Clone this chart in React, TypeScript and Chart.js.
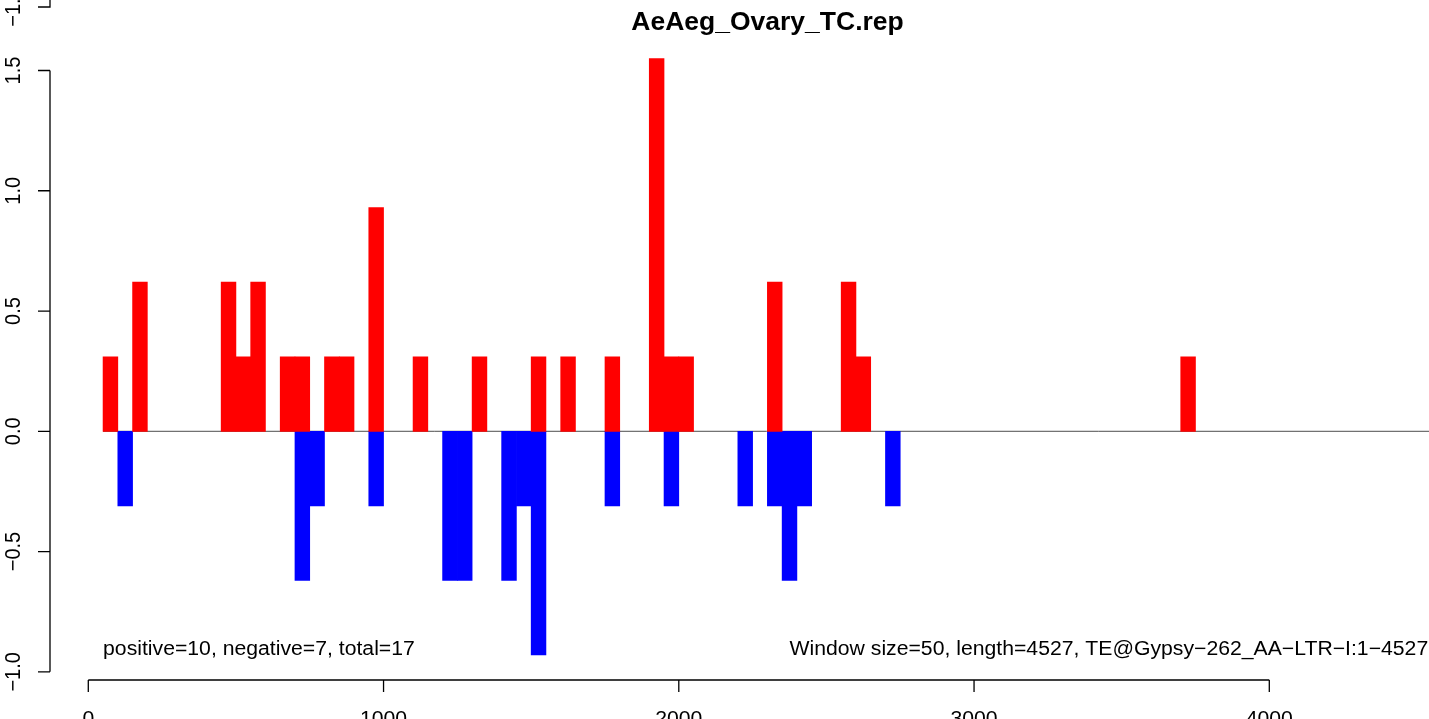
import React, { useEffect, useRef } from "react";
import { Chart, registerables } from "chart.js";

Chart.register(...registerables);

// ---- data ----
const TITLE = "AeAeg_Ovary_TC.rep";
const WINDOW = 50;
const posStarts = [50, 150, 450, 500, 550, 650, 700, 800, 850, 950, 1100, 1300, 1500, 1600, 1750, 1900, 1950, 2000, 2300, 2550, 2600, 3700];
const posValues = [0.31, 0.62, 0.62, 0.31, 0.62, 0.31, 0.31, 0.31, 0.31, 0.93, 0.31, 0.31, 0.31, 0.31, 0.31, 1.55, 0.31, 0.31, 0.62, 0.62, 0.31, 0.31];
const negStarts = [100, 700, 750, 950, 1200, 1250, 1400, 1450, 1500, 1750, 1950, 2200, 2300, 2350, 2400, 2700];
const negValues = [-0.31, -0.62, -0.31, -0.31, -0.62, -0.62, -0.62, -0.31, -0.93, -0.31, -0.31, -0.31, -0.31, -0.62, -0.31, -0.31];
const xTicks = [0, 1000, 2000, 3000, 4000];
const xTickLabels = ["0", "1000", "2000", "3000", "4000"];
const yTicks = [-1, -0.5, 0, 0.5, 1, 1.5];
const yTickLabels = ["\u22121.0", "\u22120.5", "0.0", "0.5", "1.0", "1.5"];
const baselineRange = [50, 4700];
const leftNote = "positive=10, negative=7, total=17";
const rightNote = "Window size=50, length=4527, TE@Gypsy\u2212262_AA\u2212LTR\u2212I:1\u22124527";
const upperPanelLabel = "\u22121.0";

const FONT = '"Liberation Sans", Arial, Helvetica, sans-serif';
const SX = 1.06;

function drawText(
  ctx: CanvasRenderingContext2D,
  s: string,
  x: number,
  y: number,
  size: number,
  align: CanvasTextAlign = "left",
  bold = false,
  rotate = false
) {
  ctx.save();
  ctx.translate(x, y);
  ctx.scale(SX, 1);
  if (rotate) ctx.rotate(-Math.PI / 2);
  ctx.font = `${bold ? "bold " : ""}${size}px ${FONT}`;
  ctx.textAlign = align;
  ctx.textBaseline = "alphabetic";
  ctx.fillStyle = "#000";
  ctx.fillText(s, 0, 0);
  ctx.restore();
}

export default function App() {
  const ref = useRef<HTMLCanvasElement>(null);

  useEffect(() => {
    const canvas = ref.current!;
    const rPlot = {
      id: "rPlot",
      afterDraw(chart: any) {
        const ctx: CanvasRenderingContext2D = chart.ctx;
        const xs = chart.scales.x;
        const ys = chart.scales.y;
        const ca = chart.chartArea;
        const TL = 12;
        ctx.save();
        ctx.strokeStyle = "#000";
        ctx.lineWidth = 1.3;
        ctx.lineCap = "butt";

        // y axis
        const yTop = ys.getPixelForValue(yTicks[yTicks.length - 1]);
        const yBot = ys.getPixelForValue(yTicks[0]);
        ctx.beginPath();
        ctx.moveTo(ca.left, yTop);
        ctx.lineTo(ca.left, yBot);
        yTicks.forEach((v) => {
          const py = ys.getPixelForValue(v);
          ctx.moveTo(ca.left, py);
          ctx.lineTo(ca.left - TL, py);
        });
        // remnant of the panel above
        ctx.moveTo(ca.left, 0);
        ctx.lineTo(ca.left, 7);
        ctx.lineTo(ca.left - TL, 7);
        ctx.stroke();
        yTicks.forEach((v, i) => {
          drawText(ctx, yTickLabels[i], 20, ys.getPixelForValue(v), 20, "center", false, true);
        });
        drawText(ctx, upperPanelLabel, 20, 7, 20, "center", false, true);

        // x axis
        const xL = xs.getPixelForValue(xTicks[0]);
        const xR = xs.getPixelForValue(xTicks[xTicks.length - 1]);
        ctx.beginPath();
        ctx.moveTo(xL, ca.bottom);
        ctx.lineTo(xR, ca.bottom);
        xTicks.forEach((v) => {
          const px = xs.getPixelForValue(v);
          ctx.moveTo(px, ca.bottom);
          ctx.lineTo(px, ca.bottom + TL);
        });
        ctx.stroke();
        xTicks.forEach((v, i) => {
          drawText(ctx, xTickLabels[i], xs.getPixelForValue(v), 725, 20, "center");
        });

        // title and notes
        drawText(ctx, TITLE, 767.5, 30, 25, "center", true);
        drawText(ctx, leftNote, xs.getPixelForValue(WINDOW), 655, 20, "left");
        drawText(ctx, rightNote, 789.5, 655, 20, "left");
        ctx.restore();
      },
    };

    const chart = new Chart(canvas, {
      type: "bar",
      data: {
        datasets: [
          {
            type: "line",
            data: baselineRange.map((x) => ({ x, y: 0 })),
            borderColor: "#4d4d4d",
            borderWidth: 1,
            pointRadius: 0,
            order: 10,
          } as any,
          {
            label: "positive",
            data: posStarts.map((s, i) => ({ x: s + WINDOW / 2, y: posValues[i] })),
            backgroundColor: "#ff0000",
            borderWidth: 0,
            grouped: false,
            barPercentage: 1,
            categoryPercentage: 1,
            order: 1,
          } as any,
          {
            label: "negative",
            data: negStarts.map((s, i) => ({ x: s + WINDOW / 2, y: negValues[i] })),
            backgroundColor: "#0000ff",
            borderWidth: 0,
            grouped: false,
            barPercentage: 1,
            categoryPercentage: 1,
            order: 1,
          } as any,
        ],
      },
      options: {
        responsive: false,
        animation: false,
        devicePixelRatio: 1,
        layout: { padding: { left: 50, right: 0, top: 20, bottom: 39 } },
        plugins: {
          legend: { display: false },
          title: { display: false },
          tooltip: { enabled: false },
        },
        scales: {
          x: {
            type: "linear",
            display: false,
            min: -129.7,
            max: 4540.9,
            bounds: "data",
            offset: false,
            ticks: { includeBounds: false, stepSize: 1000 },
          },
          y: {
            type: "linear",
            display: false,
            min: -1.034,
            max: 1.71,
            bounds: "data",
          },
        },
      } as any,
      plugins: [rPlot],
    });
    return () => chart.destroy();
  }, []);

  return (
    <div style={{ position: "fixed", left: 0, top: 0, width: 1429, height: 719, background: "#fff" }}>
      <canvas ref={ref} width={1429} height={719} style={{ display: "block" }} />
    </div>
  );
}
